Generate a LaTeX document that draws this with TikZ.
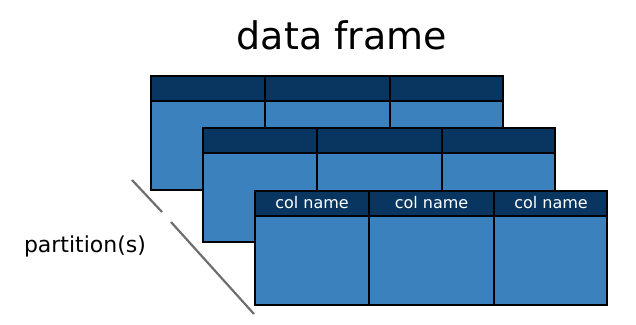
\documentclass[tikz,border=0pt]{standalone}
\usepackage{fontspec}
\setmainfont{DejaVu Sans}
\usetikzlibrary{positioning}
\definecolor{headblue}{RGB}{8,54,96}
\definecolor{cellblue}{RGB}{59,129,189}
\definecolor{cutgray}{RGB}{110,110,110}
\tikzset{
  gridline/.style={black, line width=2.6pt},
  colname/.style={white, font=\fontsize{16}{18}\selectfont, anchor=base},
  cutline/.style={cutgray, line width=2.2pt}
}

\begin{document}
\begin{tikzpicture}[x=1pt, y=-1pt]
      \useasboundingbox (0,0) rectangle (636,324);
      % Title
      \node[font=\fontsize{38}{44}\selectfont, anchor=base] (title) at (342,49) {data frame};

      % Partitions, back to front
      \foreach \x/\y in {151/76, 203/128, 255/191} {
        \fill[cellblue] (\x,\y) rectangle ++(352,114);
        \fill[headblue] (\x,\y) rectangle ++(352,25);
        \draw[gridline] (\x,\y) rectangle ++(352,114);
        \draw[gridline] (\x,\y+25) -- ++(352,0);
        \draw[gridline] (\x+114,\y) -- ++(0,114);
        \draw[gridline] (\x+239,\y) -- ++(0,114);
      }

      % Column headers of the front partition
      \node[colname] (col1) at (312,208) {col name};
      \node[colname] (col2) at (431.5,208) {col name};
      \node[colname] (col3) at (551,208) {col name};

      % Cut marks
      \coordinate (cutA) at (132,180);
      \coordinate (cutB) at (162,212);
      \coordinate (cutC) at (171,222);
      \coordinate (cutD) at (254,314);
      \draw[cutline] (cutA) -- (cutB);
      \draw[cutline] (cutC) -- (cutD);
      \node[font=\fontsize{22}{26}\selectfont, anchor=base] (partlabel) at (85,252) {partition(s)};
\end{tikzpicture}
\end{document}
